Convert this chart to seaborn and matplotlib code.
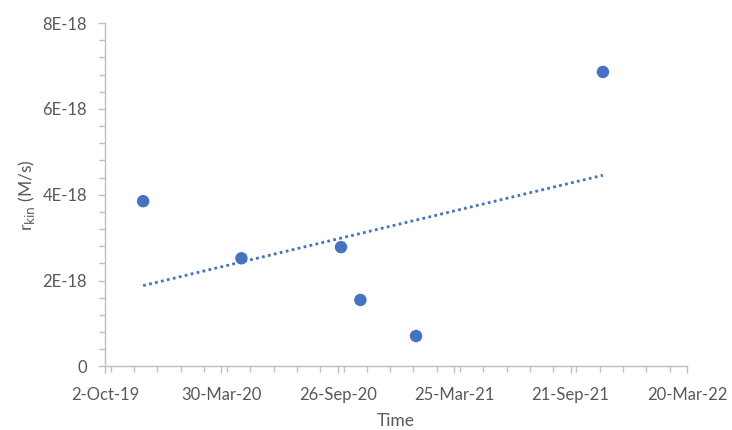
import numpy as np
import pandas as pd
import matplotlib
matplotlib.use("Agg")
import matplotlib.pyplot as plt
import matplotlib.dates as mdates
from matplotlib.ticker import FixedLocator, MultipleLocator
import seaborn as sns

# Sampling dates and measured kinetic rates
dates = ["2019-11-30", "2020-04-30", "2020-10-01", "2020-10-31", "2021-01-25", "2021-11-10"]
r_kin = [3.85e-18, 2.52e-18, 2.78e-18, 1.55e-18, 0.71e-18, 6.86e-18]

x_tick_dates = ["2019-10-02", "2020-03-30", "2020-09-26", "2021-03-25", "2021-09-21", "2022-03-20"]
x_tick_labels = ["2-Oct-19", "30-Mar-20", "26-Sep-20", "25-Mar-21", "21-Sep-21", "20-Mar-22"]
y_ticks = [0, 2e-18, 4e-18, 6e-18, 8e-18]
y_tick_labels = ["0", "2E-18", "4E-18", "6E-18", "8E-18"]

df = pd.DataFrame({"t": mdates.date2num(pd.to_datetime(dates)), "r": r_kin})
xt = mdates.date2num(pd.to_datetime(x_tick_dates))

sns.set_theme(style="white")
plt.rcParams["font.family"] = ["Lato", "DejaVu Sans"]

blue = "#4472C4"
grey = "#BFBFBF"
text_grey = "#595959"

fig = plt.figure(figsize=(7.32, 4.30), dpi=100)
ax = fig.add_axes([0.1434, 0.1477, 0.7951, 0.7988])

sns.scatterplot(data=df, x="t", y="r", ax=ax, color=blue, s=80, edgecolor="none", zorder=3)
sns.regplot(data=df, x="t", y="r", ax=ax, scatter=False, ci=None, truncate=True,
            line_kws={"color": blue, "ls": (0, (1, 1.2)), "lw": 2.0})

ax.set_xlim(xt[0], xt[-1])
ax.set_ylim(0, 8e-18)
ax.xaxis.set_major_locator(FixedLocator(xt))
ax.xaxis.set_minor_locator(MultipleLocator(36))
ax.set_xticklabels(x_tick_labels)
ax.yaxis.set_major_locator(FixedLocator(y_ticks))
ax.yaxis.set_minor_locator(MultipleLocator(0.4e-18))
ax.set_yticklabels(y_tick_labels)

for s in ["top", "right"]:
    ax.spines[s].set_visible(False)
for s in ["left", "bottom"]:
    ax.spines[s].set_color(grey)
    ax.spines[s].set_linewidth(1.0)

ax.tick_params(axis="both", which="both", direction="out", color=grey, width=1.0,
               labelsize=12, labelcolor=text_grey)
ax.tick_params(axis="both", which="major", length=5, bottom=True, left=True)
ax.tick_params(axis="x", which="major", pad=10)
ax.tick_params(axis="y", which="major", pad=8)
ax.tick_params(axis="both", which="minor", length=4, bottom=True, left=True)

ax.set_xlabel("Time", fontsize=12.5, color=text_grey, labelpad=7)
ax.set_ylabel(r"r$_{\mathrm{kin}}$ (M/s)", fontsize=12.5, color=text_grey, labelpad=4)

fig.savefig("out.png", dpi=100, facecolor="white")
